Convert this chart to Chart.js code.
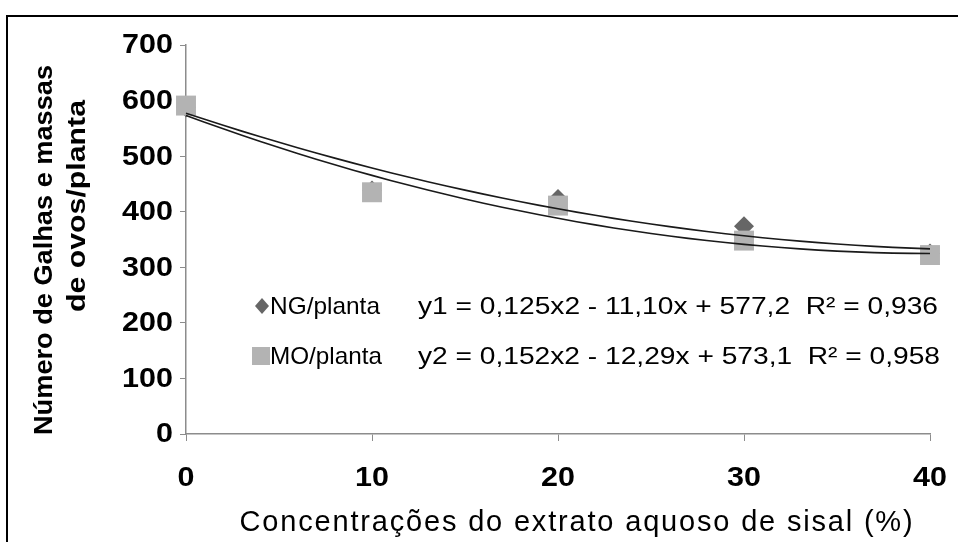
<!DOCTYPE html>
<html>
<head>
<meta charset="utf-8">
<script src="https://cdn.jsdelivr.net/npm/chart.js@4/dist/chart.umd.min.js"></script>
<style>
  html, body { margin: 0; padding: 0; background: #fff; }
  #wrap { position: relative; width: 958px; height: 542px; }
</style>
</head>
<body>
<div id="wrap"><canvas id="grafico" width="958" height="542"></canvas></div>
<script>
// concentrações do extrato (%)
const concentracoes = [0, 10, 20, 30, 40];
// número de galhas por planta
const ngPlanta = [588, 438, 423, 374, 325];
// massas de ovos por planta
const moPlanta = [591, 435, 411, 348, 322];

// coeficientes das curvas ajustadas (a*x² + b*x + c)
const coefNG = [0.125, -11.10, 577.2];
const coefMO = [0.152, -12.29, 573.1];

const eqNG = 'y1 = 0,125x2 - 11,10x + 577,2  R² = 0,936';
const eqMO = 'y2 = 0,152x2 - 12,29x + 573,1  R² = 0,958';

const yTicks = [0, 100, 200, 300, 400, 500, 600, 700];
const xTicks = [0, 10, 20, 30, 40];

function curva(coef) {
  const pts = [];
  for (let x = 0; x <= 40; x += 1) {
    pts.push({ x: x, y: coef[0] * x * x + coef[1] * x + coef[2] });
  }
  return pts;
}

const pontos = (ys) => concentracoes.map((x, i) => ({ x: x, y: ys[i] }));

const FONTE = "'Liberation Sans', Arial, sans-serif";
const CINZA_EIXO = '#8c8c8c';

// texto com escala horizontal: sx fixo, ou esticado até 'largura';
// com 'espacar', a largura é completada pelo espaçamento entre letras
function texto(ctx, txt, x, y, opts) {
  ctx.save();
  ctx.letterSpacing = '0px';
  const w = ctx.measureText(txt).width;
  let sx = opts.sx || 1;
  if (opts.largura && opts.espacar) {
    const extra = (opts.largura / sx - w) / Math.max(1, txt.length - 1);
    ctx.letterSpacing = extra.toFixed(2) + 'px';
  } else if (opts.largura) {
    sx = opts.largura / w;
  }
  ctx.translate(x, y);
  if (opts.rot) ctx.rotate(opts.rot);
  ctx.scale(sx, 1);
  ctx.fillText(txt, 0, 0);
  ctx.restore();
}

// moldura, rótulos dos eixos, títulos e legenda interna
const extras = {
  id: 'extras',
  beforeDraw(chart) {
    const ctx = chart.ctx;
    ctx.save();
    ctx.fillStyle = '#fff';
    ctx.fillRect(0, 0, chart.width, chart.height);
    ctx.strokeStyle = '#000';
    ctx.lineWidth = 2;
    ctx.strokeRect(7, 16, 980, 600);
    ctx.restore();
  },
  afterDraw(chart) {
    const ctx = chart.ctx;
    const sx = chart.scales.x, sy = chart.scales.y;
    ctx.save();
    ctx.fillStyle = '#000';
    ctx.textBaseline = 'middle';

    // rótulos dos eixos
    ctx.font = 'bold 27px ' + FONTE;
    ctx.textAlign = 'right';
    sy.ticks.forEach(t => texto(ctx, String(t.value), 173, sy.getPixelForValue(t.value) + 1, { sx: 1.13 }));
    ctx.textAlign = 'center';
    sx.ticks.forEach(t => texto(ctx, String(t.value), sx.getPixelForValue(t.value), 479, { sx: 1.13 }));

    // título do eixo y
    ctx.font = 'bold 26px ' + FONTE;
    texto(ctx, 'Número de Galhas e massas', 45, 250, { rot: -Math.PI / 2, largura: 370 });
    texto(ctx, 'de ovos/planta', 78, 206, { rot: -Math.PI / 2, largura: 212 });

    // título do eixo x
    ctx.font = '29px ' + FONTE;
    texto(ctx, 'Concentrações do extrato aquoso de sisal (%)', 577, 523, { largura: 673, espacar: true });

    // legenda
    ctx.textAlign = 'left';
    ctx.fillStyle = '#666';
    ctx.beginPath();
    ctx.moveTo(262, 298); ctx.lineTo(269, 306); ctx.lineTo(262, 314); ctx.lineTo(255, 306);
    ctx.closePath(); ctx.fill();
    ctx.fillStyle = '#b3b3b3';
    ctx.fillRect(252, 347, 18, 18);
    ctx.fillStyle = '#000';
    ctx.font = '24px ' + FONTE;
    texto(ctx, 'NG/planta', 270, 307, { largura: 110 });
    texto(ctx, eqNG, 418, 307, { largura: 520 });
    texto(ctx, 'MO/planta', 270, 357, { largura: 112 });
    texto(ctx, eqMO, 418, 357, { largura: 522 });
    ctx.restore();
  }
};

new Chart(document.getElementById('grafico'), {
  type: 'scatter',
  data: {
    datasets: [
      {
        label: 'curva NG',
        type: 'line',
        data: curva(coefNG),
        borderColor: '#1a1a1a',
        borderWidth: 1.6,
        pointRadius: 0,
        fill: false,
        tension: 0,
        clip: false
      },
      {
        label: 'curva MO',
        type: 'line',
        data: curva(coefMO),
        borderColor: '#1a1a1a',
        borderWidth: 1.6,
        pointRadius: 0,
        fill: false,
        tension: 0,
        clip: false
      },
      {
        label: 'MO/planta',
        data: pontos(moPlanta),
        pointStyle: 'rect',
        pointRadius: 14.1,
        backgroundColor: '#b3b3b3',
        borderColor: '#b3b3b3',
        borderWidth: 0,
        clip: false
      },
      {
        label: 'NG/planta',
        data: pontos(ngPlanta),
        pointStyle: 'rectRot',
        pointRadius: 10,
        backgroundColor: '#666666',
        borderColor: '#666666',
        borderWidth: 0,
        clip: false
      }
    ]
  },
  options: {
    responsive: false,
    animation: false,
    events: [],
    layout: { padding: { top: 45, right: 28, left: 0, bottom: 0 } },
    plugins: {
      legend: { display: false },
      tooltip: { enabled: false }
    },
    scales: {
      x: {
        type: 'linear',
        min: 0,
        max: 40,
        afterBuildTicks: (s) => { s.ticks = xTicks.map(v => ({ value: v })); },
        afterFit: (s) => { s.height = 108; },
        grid: { display: true, drawOnChartArea: false, drawTicks: true, tickLength: 7, color: CINZA_EIXO },
        border: { color: CINZA_EIXO, width: 1.5 },
        ticks: { display: false }
      },
      y: {
        min: 0,
        max: 700,
        afterBuildTicks: (s) => { s.ticks = yTicks.map(v => ({ value: v })); },
        afterFit: (s) => { s.width = 186; },
        grid: { display: true, drawOnChartArea: false, drawTicks: true, tickLength: 6, color: CINZA_EIXO },
        border: { color: CINZA_EIXO, width: 1.5 },
        ticks: { display: false }
      }
    }
  },
  plugins: [extras]
});
</script>
</body>
</html>
